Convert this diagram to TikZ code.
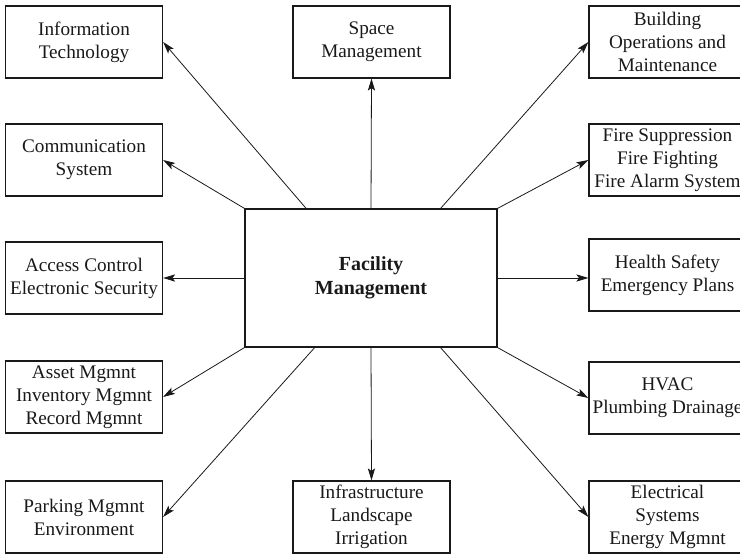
\documentclass[tikz,border=0pt]{standalone}
\usepackage{fontspec}
\setmainfont{Liberation Serif}
\usepackage{tikz}
\usetikzlibrary{arrows.meta,positioning}

\begin{document}
\begin{tikzpicture}[auto, >={Stealth[length=6pt,width=3.6pt,inset=1.3pt]}, x=0.5pt, y=-0.5pt,
    topic/.style={draw, line width=0.6pt, minimum width=78.5pt, minimum height=36pt,
      inner xsep=1pt, inner ysep=0pt, align=center,
      font=\fontsize{9.6}{11.5}\selectfont},
    hub/.style={topic, minimum width=126pt, minimum height=69pt, font=\fontsize{10}{12}\selectfont\bfseries},
    every path/.style={color=black!90}]

  \useasboundingbox (0,0) rectangle (740,555);

  % Define coordinates for nodes
  \node[hub] (FM) at (371, 278) {Facility\\Management};
  \node[topic] (IT) at (84, 42) {Information\\Technology};
  \node[topic] (CS) at (84, 160) {Communication\\System};
  \node[topic] (AC) at (84, 278) {Access Control\\Electronic Security};
  \node[topic] (AM) at (84, 397) {Asset Mgmnt\\Inventory Mgmnt\\Record Mgmnt};
  \node[topic] (PM) at (84, 517) {Parking Mgmnt\\Environment};
  \node[topic] (SM) at (371.5, 42) {Space\\Management};
  \node[topic] (IL) at (371.5, 517) {Infrastructure\\Landscape\\Irrigation};
  \node[topic] (BO) at (667.5, 42) {Building\\Operations and\\Maintenance};
  \node[topic] (FS) at (667.5, 160) {Fire Suppression\\Fire Fighting\\Fire Alarm System};
  \node[topic] (HS) at (667.5, 275) {Health Safety\\Emergency Plans};
  \node[topic] (HV) at (667.5, 398) {HVAC\\Plumbing Drainage};
  \node[topic] (ES) at (667.5, 517) {Electrical\\Systems\\Energy Mgmnt};

  % Draw arrows between nodes
  \draw[->] (FM.133) to (IT.east);
  \draw[->] (FM.north west) to (CS.east);
  \draw[->] (FM.west) to (AC.east);
  \draw[->] (FM.south west) to (AM.east);
  \draw[->] (FM.231) to (PM.east);
  \draw[->] (FM.north) to (SM.south);
  \draw[->] (FM.south) to (IL.north);
  \draw[->] (FM.45) to (BO.west);
  \draw[->] (FM.north east) to (FS.west);
  \draw[->] (FM.east) to (FM.east -| HS.west);
  \draw[->] (FM.south east) to (HV.west);
  \draw[->] (FM.315) to (ES.west);
\end{tikzpicture}
\end{document}
